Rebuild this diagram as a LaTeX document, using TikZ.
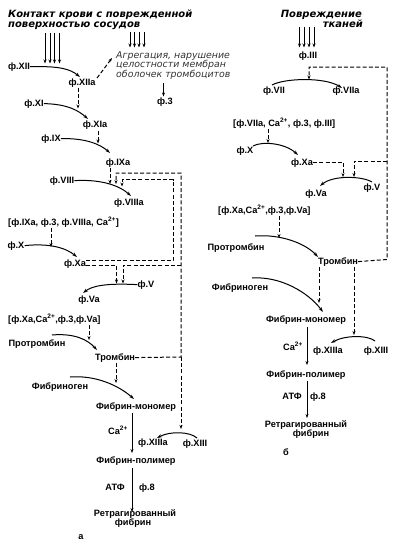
\documentclass[tikz,border=0pt]{standalone}
\usepackage{fontspec}
\setmainfont{Liberation Sans}
\newfontfamily\titlefont{DejaVu Sans}
\newfontfamily\notefont{DejaVu Sans}
\usetikzlibrary{arrows.meta}
\begin{document}
\begin{tikzpicture}[x=1pt,y=-1pt,
  lab/.style={font=\fontsize{9.2}{10}\selectfont\bfseries, inner sep=0pt, anchor=base},
  ttl/.style={font=\titlefont\fontsize{10}{11}\selectfont\bfseries\itshape, inner sep=0pt},
  note/.style={font=\notefont\fontsize{9.4}{10}\selectfont\itshape, text=black!80, inner sep=0pt, anchor=base west},
  arr/.style={-{Stealth[length=4pt,width=3pt]}, line width=0.9pt},
  dsh/.style={dash pattern=on 4pt off 2.2pt, line width=1pt},
  darr/.style={dsh, -{Stealth[length=4pt,width=3pt]}},
  crv/.style={line width=1pt, -{Stealth[length=5pt,width=3.2pt]}}
]
\useasboundingbox (0,0) rectangle (400,547);

% ---------------- panel a ----------------
\node[ttl, anchor=base west] (t1) at (8,17) {Контакт крови с поврежденной};
\node[ttl, anchor=base west] (t2) at (8,27) {поверхностью сосудов};
\foreach \x in {45,50,54.5,59.5} \draw[arr] (\x,33) -- (\x,63.5);

\node[lab] (f12) at (19,69) {ф.XII};
\node[lab] (f12a) at (82,85) {ф.XIIa};
\draw[crv] (f12.east) .. controls (60,66) and (70,69) .. (80,77);
\draw[darr] (97,78) -- (112,58);

\node[note] (n1) at (116,58) {Агрегация, нарушение};
\node[note] (n2) at (116,67.5) {целостности мембран};
\node[note] (n3) at (116,77) {оболочек тромбоцитов};
\foreach \x in {130,134.5,139,144} \draw[arr] (\x,32) -- (\x,47.5);
\node[lab] (f3) at (165,104) {ф.3};
\draw[arr] (163.5,83) -- (163.5,96.5);

\draw[darr] (78,88) -- (78,108.5);
\node[lab] (f11) at (34,106) {ф.XI};
\draw[crv] (f11.east) .. controls (68,104) and (79,111) .. (88,119);
\node[lab] (f11a) at (95,127) {ф.XIa};

\draw[darr] (98,131) -- (98,143.5);
\node[lab] (f9) at (51,141) {ф.IX};
\draw[crv] (f9.east) .. controls (85,138) and (100,144) .. (110,153);
\node[lab] (f9a) at (118,165) {ф.IXa};

\draw[darr] (110,168) -- (110,184);
\node[lab] (f8) at (62,183) {ф.VIII};
\draw[crv] (f8.east) .. controls (102,179) and (120,186) .. (131,196);
\node[lab] (f8a) at (129,205) {ф.VIIIa};

\node[lab, anchor=base west] (br1) at (8,225) {[ф.IXa, ф.3, ф.VIIIa, Ca\textsuperscript{2+}]};
\draw[darr] (51,228) -- (51,247);
\node[lab] (f10) at (16,248) {ф.X};
\draw[crv] (f10.east) .. controls (50,243) and (66,248) .. (77,257);
\node[lab] (f10a) at (75,266.5) {ф.Xa};

% feedback loops
\draw[darr] (f10a.north east |- 0,260.5) -- (173,260.5) -- (173,179.5) -- (122,179.5) -- (122,186.5);
\draw[darr] (f10a.east |- 0,265) -- (116.5,265) -- (116.5,283.5);

\node[lab] (f5) at (146,287) {ф.V};
\draw[crv] (f5.west) .. controls (105,283) and (92,286) .. (83,293);
\node[lab] (f5a) at (89,302) {ф.Va};

\node[lab, anchor=base west] (br2) at (8,322) {[ф.Xa,Ca\textsuperscript{2+},ф.3,ф.Va]};
\draw[darr] (89,325) -- (89,340);
\node[lab] (prot) at (37,346) {Протромбин};
\draw[crv] (52,335) .. controls (75,333) and (88,340) .. (97,350);
\node[lab] (tromb) at (115,360) {Тромбин};

\coordinate (tc) at (181,357);
\draw[darr] (tromb.east) -- (tc) -- (181,173) -- (116,173) -- (116,184);
\draw[darr] (181,265) -- (123,265) -- (123,283.5);
\draw[darr] (tc) -- (181,429);

\draw[darr] (116,363) -- (116,383);
\node[lab] (fbg) at (60,389) {Фибриноген};
\draw[crv] (70,377) .. controls (95,375) and (118,385) .. (134,399);
\node[lab] (fm) at (136,409) {Фибрин-мономер};

\draw[arr] (132,413) -- (132,453);
\node[lab] (ca1) at (118,434) {Ca\textsuperscript{2+}};
\node[lab] (f13a) at (153,445) {ф.XIIIa};
\node[lab] (f13) at (195,446) {ф.XIII};
\draw[crv] (197,438) .. controls (190,431.5) and (170,431) .. (157,438);

\node[lab] (fp) at (136,463) {Фибрин-полимер};
\draw[arr] (132,468) -- (132,512);
\node[lab] (atf) at (115,490) {АТФ};
\node[lab] (f8b) at (147,490) {ф.8};
\node[lab] (rf1) at (135,516) {Ретрагированный};
\node[lab] (rf2) at (133,525) {фибрин};
\node[lab] (la) at (81,539) {а};

% ---------------- panel b ----------------
\node[ttl, anchor=base east] (u1) at (362,17) {Повреждение};
\node[ttl, anchor=base east] (u2) at (363,27) {тканей};
\foreach \x in {299.5,304,309,314} \draw[arr] (\x,27) -- (\x,47.5);
\node[lab] (g3) at (308,58) {ф.III};

\node[lab] (g7) at (274,93) {ф.VII};
\node[lab] (g7a) at (346,93) {ф.VIIa};
\draw[crv] (272,85) .. controls (285,78) and (325,77) .. (342,88);

\node[lab, anchor=base west] (br3) at (233,126) {[ф.VIIa, Ca\textsuperscript{2+}, ф.3, ф.III]};
\draw[darr] (268,129) -- (268,143);
\node[lab] (g10) at (245,153) {ф.X};
\draw[crv] (253,146) .. controls (262,141) and (285,143) .. (298,155);
\node[lab] (g10a) at (302,165) {ф.Xa};

\draw[darr] (g10a.east |- 0,162) -- (343,162) -- (343,177);
\draw[darr] (387,161) -- (354,161) -- (354,177);

\node[lab] (g5) at (372,190) {ф.V};
\node[lab] (g5a) at (316,196) {ф.Va};
\draw[crv] (372,182) .. controls (362,176) and (333,175) .. (320,186);

\node[lab, anchor=base west] (br4) at (218,213) {[ф.Xa,Ca\textsuperscript{2+},ф.3,ф.Va]};
\draw[darr] (279,216) -- (279,238);
\node[lab] (gprot) at (236,250) {Протромбин};
\draw[crv] (255,236) .. controls (280,234) and (305,243) .. (318,257);
\node[lab] (gtromb) at (338,264) {Тромбин};

\draw[darr] (gtromb.east) -- (387,259.5) -- (387,67) -- (309,67) -- (309,79.5);
\draw[darr] (319,267) -- (319,303);
\draw[darr] (354,267) -- (354,335);

\node[lab] (gfbg) at (240,290) {Фибриноген};
\draw[crv] (252,278) .. controls (280,276) and (308,292) .. (323,312);
\node[lab] (gfm) at (306,322) {Фибрин-мономер};
\draw[arr] (307,327) -- (307,365);
\node[lab] (gca) at (293,350) {Ca\textsuperscript{2+}};
\node[lab] (g13a) at (328,353) {ф.XIIIa};
\node[lab] (g13) at (376,353) {ф.XIII};
\draw[crv] (375,341) .. controls (368,335) and (345,335) .. (331,343);

\node[lab] (gfp) at (306,377) {Фибрин-полимер};
\draw[arr] (307,381) -- (307,418);
\node[lab] (gatf) at (292,399) {АТФ};
\node[lab] (g8) at (318,399) {ф.8};
\node[lab] (grf1) at (306,427) {Ретрагированный};
\node[lab] (grf2) at (311,436) {фибрин};
\node[lab] (lb) at (286,455) {б};
\end{tikzpicture}
\end{document}
